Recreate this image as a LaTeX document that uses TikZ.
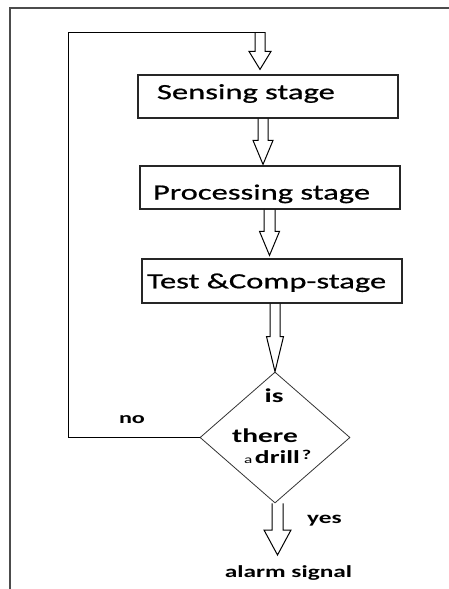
\documentclass[tikz,border=0pt]{standalone}
\usepackage{fontspec}
\usetikzlibrary{shapes.geometric,calc}
\newfontfamily\cf[FakeStretch=1.5]{Carlito}
\newfontfamily\cfm[FakeStretch=1.5,FakeBold=0.8]{Carlito}
\newcommand\hollowarrow[5]{%
  \draw[flow] let \p1=(#1), \p2=(#2) in
    (\x1-#3,\y1) -- (\x1-#3,\y2+#5) -- (\x1-#4,\y2+#5) -- (\x1,\y2)
    -- (\x1+#4,\y2+#5) -- (\x1+#3,\y2+#5) -- (\x1+#3,\y1);}
\begin{document}
\begin{tikzpicture}[x=1pt,y=-1pt,
  frameline/.style={line width=1.4pt,draw=black!70},
  flow/.style={line width=1pt,draw=black},
  stagebox/.style={draw=black!85,line width=1.2pt,minimum width=260pt,minimum height=43pt,
    inner ysep=0pt,font=\cfm\fontsize{21.7}{24}\selectfont,align=left},
  decision/.style={diamond,draw=black!80,line width=0.8pt,minimum width=150pt,
    minimum height=131pt,inner sep=0pt},
  lbl/.style={inner sep=0pt,anchor=base},
]
\useasboundingbox (0,0) rectangle (449,589);
% frame
\coordinate (ftl) at (10,8);
\coordinate (ftr) at (449,8);
\coordinate (fbl) at (10,589);
\draw[frameline] (ftr) -- (ftl) -- (fbl);
% stages
\node[stagebox, inner xsep=19pt, text width=222pt, text height=12pt, text depth=6.7pt] (s) at (268,96.5) {Sensing stage};
\node[stagebox, inner xsep=13pt, text width=234pt, text height=24pt, text depth=0pt] (p) at (270,187.5) {Processing stage};
\node[stagebox, inner xsep=5pt, text width=250pt, text height=15pt, text depth=0.4pt, minimum height=44pt] (t) at (272,281) {Test \&Comp-stage};
\node[decision] (d) at (275,437.5) {};
% decision texts
\node[lbl, font=\cf\bfseries\fontsize{19.6}{20}\selectfont] (is) at (274,402) {is};
\node[lbl, font=\cf\bfseries\fontsize{19.6}{20}\selectfont] (there) at (265,442) {there};
\node[lbl, anchor=base west, font=\cf\bfseries\fontsize{18.4}{20}\selectfont] (drill) at (244,463)
  {{\mdseries\fontsize{11.5}{12}\selectfont a}\hspace{2.5pt}drill\hspace{2pt}\raisebox{4pt}{\fontsize{13.5}{14}\selectfont ?}};
% labels
\node[lbl, font=\cf\bfseries\fontsize{16.1}{18}\selectfont] (no) at (132,423) {no};
\node[lbl, font=\cf\bfseries\fontsize{16.9}{18}\selectfont] (yes) at (324.5,523) {yes};
\node[lbl, font=\cf\bfseries\fontsize{16.9}{18}\selectfont] (alarm) at (288.5,577) {alarm signal};
% loop
\coordinate (lt) at (68,32);
\coordinate (a1) at (260,32);
\coordinate (a1r) at (265,32);
\draw[flow] (d.west) -| (lt) -- (a1r);
% block arrows
\hollowarrow{a1}{$(s.north)+(0,-5)$}{5pt}{11pt}{18pt}
\hollowarrow{$(s.south)+(-5,0)$}{$(p.north)+(0,-1)$}{5pt}{10pt}{24pt}
\hollowarrow{$(p.south)+(-0.5,0)$}{$(t.north)+(0,-3)$}{5.5pt}{10pt}{24pt}
\hollowarrow{$(t.south)+(3,0)$}{d.north}{5pt}{8.5pt}{35pt}
\coordinate (a5tip) at (277.5,555);
\hollowarrow{$(d.south)+(2.5,0)$}{a5tip}{5.5pt}{13.5pt}{25pt}
\end{tikzpicture}
\end{document}
